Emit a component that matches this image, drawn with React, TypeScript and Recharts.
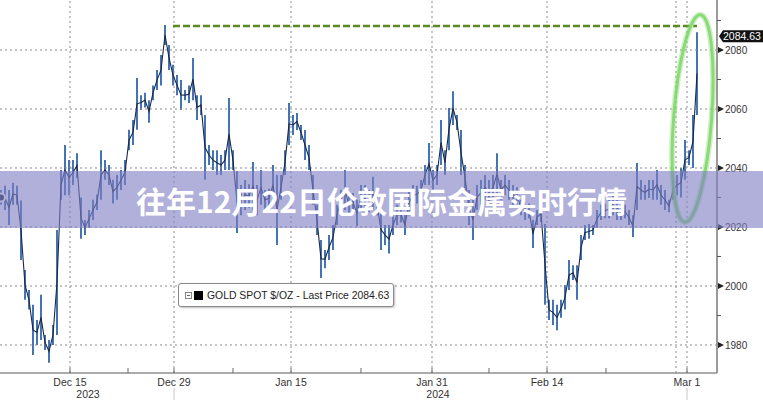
import React from 'react';
import {
  ComposedChart,
  Bar,
  Line,
  XAxis,
  YAxis,
  ReferenceLine,
  ReferenceDot,
} from 'recharts';

// intraday bar ranges, one per slot (left to right)
const LOW = [
  2027.5, 2025.8, 2020.7, 2027.5, 2027.5, 2008.8, 1995.3, 1992, 1976.6, 1980,
  1981.7, 1978.3, 1974, 1980, 1983.4, 2029.2, 2030.8, 2030.8, 2034.2, 2036.6,
  2016, 2017.3, 2019.7, 2022.4, 2025.8, 2029.2, 2036, 2034.2, 2028, 2029.2,
  2032.5, 2034.2, 2046, 2047.8, 2053, 2059.7, 2060.5, 2055.3, 2063, 2066.4,
  2068, 2081.7, 2073.2, 2068, 2064.7, 2059.7, 2063, 2062, 2063, 2056.3,
  2058, 2036, 2041, 2039.3, 2037.6, 2037.6, 2039.3, 2039.3, 2039.3, 2018,
  2024, 2025.8, 2026.5, 2025.8, 2024, 2027.5, 2025.8, 2026.5, 2027.5, 2013.9,
  2029.2, 2037.6, 2047.8, 2051.2, 2052.9, 2049.5, 2042.7, 2039.3, 2027.5, 2017.3,
  2002.7, 2006, 2008.8, 2012.2, 2020.7, 2025.8, 2025.8, 2024, 2025, 2020.3,
  2025.8, 2024, 2025, 2025.8, 2024, 2012.2, 2013.9, 2011, 2017.3, 2020.7,
  2021.5, 2017.3, 2024, 2027.5, 2028, 2029.2, 2034.2, 2034.2, 2032.5, 2034.2,
  2041, 2037.6, 2046, 2054.6, 2052.9, 2037.6, 2032.5, 2020.7, 2015.6, 2025.8,
  2027.5, 2029.2, 2027.5, 2029.2, 2030.8, 2029.2, 2030.8, 2029.2, 2027.5, 2028,
  2024, 2022.4, 2023, 2012.9, 2020.7, 2021.7, 1993.6, 1988.5, 1986.8, 1985,
  1989.2, 1992, 1998.6, 2002, 1995.3, 2008.8, 2015.6, 2016, 2017.3, 2019.7,
  2022.4, 2023, 2023, 2024, 2022.4, 2022.4, 2023, 2020.7, 2016.6, 2025.8,
  2029.2, 2029.2, 2029.8, 2029.2, 2029.2, 2027.5, 2025.8, 2025, 2029.2, 2030.8,
  2030, 2036, 2041, 2040, 2058,
];

const HIGH = [
  2032.5, 2034, 2032.5, 2035, 2034, 2029, 2005.4, 1998.6, 1993.6, 1988.5,
  1997, 1983.4, 1981.7, 1986.8, 2019, 2039.3, 2047.8, 2042.7, 2042.7, 2045,
  2030, 2022.4, 2025.8, 2029.2, 2031, 2046, 2042.7, 2041, 2036, 2037.6,
  2039.3, 2042.7, 2053, 2056.3, 2070.5, 2064.7, 2065.5, 2063, 2068, 2073.2,
  2078.3, 2088.5, 2081.7, 2075, 2071.5, 2069.8, 2066.4, 2068, 2077.3, 2064.7,
  2064.7, 2058, 2047.8, 2046, 2046, 2044.4, 2046, 2063.7, 2046, 2039,
  2034.2, 2035.9, 2034.5, 2042, 2034.2, 2039.3, 2032.5, 2033, 2041, 2037.6,
  2037.6, 2046, 2062, 2058, 2058.6, 2054.6, 2052.9, 2047.8, 2037.6, 2027.5,
  2015.6, 2012.2, 2017.3, 2020.7, 2027.5, 2032.5, 2039.3, 2030.8, 2031.5, 2029.2,
  2034.2, 2034.2, 2032.5, 2037, 2030.8, 2026, 2020.7, 2020.7, 2024, 2027.5,
  2027, 2024, 2032.5, 2034.2, 2034, 2035.9, 2041, 2048.5, 2039.3, 2041,
  2056.3, 2046, 2060.3, 2066, 2058, 2052.9, 2041, 2032.5, 2029.2, 2034.2,
  2035.9, 2037.6, 2035.9, 2037.6, 2045, 2035.9, 2037.6, 2035.9, 2034.2, 2033.5,
  2029.2, 2027.5, 2028, 2022.4, 2025.8, 2027.5, 2021, 1995.3, 1995.3, 1993.6,
  1995.3, 2000.3, 2008.8, 2007, 2007, 2017.3, 2020.7, 2021, 2020.7, 2025.8,
  2027.5, 2028, 2029.2, 2030.8, 2030.8, 2027.5, 2027.5, 2025.8, 2024, 2041.7,
  2035.9, 2034.2, 2035.9, 2035.9, 2039.3, 2034.2, 2032.5, 2029.2, 2035.9, 2037.6,
  2040, 2049.5, 2046, 2058, 2086,
];

const LAST_PRICE = 2084.63;
const PREV_HIGH = 2088.1;

// x axis: slot positions of the date ticks
const X_TICKS = [17.25, 31.75, 43.25, 58, 72.5, 90, 107.75, 122, 136.5, 151.25, 171.5];
const X_LABELS = ['Dec 15', '', 'Dec 29', '', 'Jan 15', '', 'Jan 31', '', 'Feb 14', '', 'Mar 1'];
const YEAR_LABELS: Record<string, string> = { 'Dec 15': '2023', 'Jan 31': '2024' };
const X_GRID = [17.25, 43.25, 72.5, 107.75, 136.5, 168.75, 171.5];

const Y_TICKS = [1980, 1990, 2000, 2010, 2020, 2030, 2040, 2050, 2060, 2070, 2080, 2090];
const Y_GRID = [1980, 2000, 2020, 2040, 2060, 2080];

const data = LOW.map((lo, i) => ({ i, range: [lo, HIGH[i]], mid: (lo + HIGH[i]) / 2 }));

const FONT = '"Liberation Sans", Arial, sans-serif';

function XTick(props: any) {
  const { x, y, index } = props;
  const label = X_LABELS[index];
  const year = YEAR_LABELS[label];
  return (
    <g>
      <line x1={x} y1={y - 5} x2={x} y2={y} stroke="#666" strokeWidth={1} />
      {label && (
        <text x={x} y={y + 13} textAnchor="middle" fontSize={10.5} fontFamily={FONT} fill="#333">
          {label}
        </text>
      )}
      {year && (
        <text x={x + (label === 'Dec 15' ? 18 : 6)} y={y + 25} textAnchor="middle" fontSize={10.5} fontFamily={FONT} fill="#333">
          {year}
        </text>
      )}
      {(label === 'Dec 29' || label === 'Mar 1') && (
        <line x1={x} y1={y + 15} x2={x} y2={y + 27} stroke="#c8c8c8" strokeWidth={1} />
      )}
    </g>
  );
}

function YTick(props: any) {
  const { x, y, payload } = props;
  const v = payload.value;
  if (v % 20 === 0) {
    return (
      <g>
        <polygon points={`${x + 1},${y - 3} ${x + 7},${y} ${x + 1},${y + 3}`} fill="#222" />
        <text x={x + 8} y={y + 4} fontSize={10} fontFamily={FONT} fill="#333">
          {v}
        </text>
      </g>
    );
  }
  return <line x1={x} y1={y} x2={x + 4} y2={y} stroke="#555" strokeWidth={1} />;
}

function Ellipse(props: any) {
  const { cx, cy } = props;
  return (
    <g transform={`rotate(4.3 ${cx} ${cy})`}>
      <ellipse cx={cx} cy={cy} rx={19} ry={104} fill="none" stroke="rgba(150,225,130,0.45)" strokeWidth={6} />
      <ellipse cx={cx} cy={cy} rx={19} ry={104} fill="none" stroke="rgba(120,212,98,0.8)" strokeWidth={3} />
    </g>
  );
}

function PriceTag(props: any) {
  const { cx, cy } = props;
  return (
    <g>
      <polygon
        points={`${cx + 2},${cy} ${cx + 6},${cy - 6} ${cx + 48},${cy - 6} ${cx + 48},${cy + 6} ${cx + 6},${cy + 6}`}
        fill="#111"
      />
      <text x={cx + 6} y={cy + 4} fontSize={10.5} fontFamily={FONT} fill="#fff">
        {LAST_PRICE.toFixed(2)}
      </text>
    </g>
  );
}

export default function App() {
  return (
    <div style={{ position: 'absolute', left: 0, top: 0, width: 763, height: 400, background: '#fff' }}>
      <ComposedChart width={763} height={400} data={data} margin={{ top: 0, right: 0, bottom: 0, left: 0 }}>
        <XAxis
          dataKey="i"
          type="number"
          domain={[-0.25, 179]}
          allowDataOverflow
          ticks={X_TICKS}
          interval={0}
          height={27}
          tickSize={0}
          tickMargin={0}
          tickLine={false}
          tick={<XTick />}
          axisLine={{ stroke: '#8f8f8f', strokeWidth: 1.5 }}
        />
        <YAxis
          orientation="right"
          type="number"
          domain={[1970.5, 2096.95]}
          allowDataOverflow
          ticks={Y_TICKS}
          interval={0}
          width={46}
          tickSize={0}
          tickMargin={0}
          tickLine={false}
          tick={<YTick />}
          axisLine={{ stroke: '#9a9a9a', strokeWidth: 2 }}
        />
        {Y_GRID.map((v) => (
          <ReferenceLine key={`h${v}`} y={v} stroke="#8c8c8c" strokeDasharray="2 3" />
        ))}
        {X_GRID.map((v) => (
          <ReferenceLine key={`v${v}`} x={v} stroke="#8c8c8c" strokeDasharray="2 3" />
        ))}
        <Bar dataKey="range" barSize={2} fill="#4574b4" isAnimationActive={false} />
        <Line
          dataKey="mid"
          type="linear"
          stroke="#1c2946"
          strokeWidth={1.1}
          dot={false}
          isAnimationActive={false}
        />
        <ReferenceLine
          segment={[{ x: 43, y: PREV_HIGH }, { x: 174, y: PREV_HIGH }]}
          stroke="#5a8a22"
          strokeWidth={2.5}
          strokeDasharray="7 3"
        />
        <ReferenceDot x={172.9} y={2056.8} r={0} shape={<Ellipse />} />
        <ReferenceDot x={179} y={LAST_PRICE} r={0} shape={<PriceTag />} />
      </ComposedChart>

      <div
        style={{
          position: 'absolute',
          left: 178,
          top: 283,
          width: 214,
          height: 22,
          border: '1px solid #8a8a8a',
          borderRadius: 3,
          background: '#fff',
          boxShadow: '1px 1px 2px rgba(0,0,0,0.25)',
          display: 'flex',
          alignItems: 'center',
          fontFamily: FONT,
          fontSize: 10.4,
          color: '#222',
          whiteSpace: 'nowrap',
        }}
      >
        <span
          style={{
            marginLeft: 6,
            width: 5,
            height: 5,
            border: '1px solid #888',
            position: 'relative',
          }}
        >
          <span style={{ position: 'absolute', left: 1, top: 2, width: 3, height: 1, background: '#666' }} />
        </span>
        <span style={{ marginLeft: 2, width: 9, height: 9, background: '#000' }} />
        <span style={{ marginLeft: 4 }}>GOLD SPOT $/OZ - Last Price 2084.63</span>
      </div>

      <div
        style={{
          position: 'absolute',
          left: 0,
          top: 171,
          width: 763,
          height: 57,
          background: 'rgba(128,128,196,0.62)',
          display: 'flex',
          alignItems: 'center',
          justifyContent: 'center',
          color: '#fff',
          fontFamily: '"Noto Sans CJK SC", sans-serif',
          fontWeight: 700,
          fontSize: 30,
        }}
      >
        往年12月22日伦敦国际金属实时行情
      </div>
    </div>
  );
}
